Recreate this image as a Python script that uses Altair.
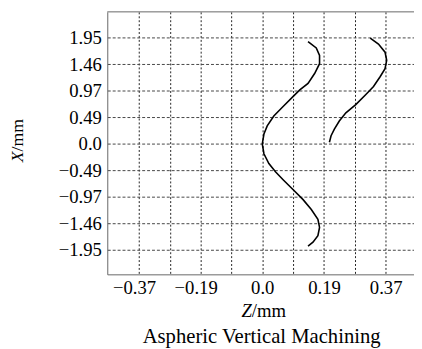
import altair as alt
import pandas as pd

# Curve 1 (through origin): Z values and X values
c1_z = [0.139, 0.164, 0.174, 0.174, 0.159, 0.139, 0.114, 0.094, 0.064, 0.035, 0.015, 0.005, 0.0,
        0.005, 0.020, 0.040, 0.064, 0.094, 0.124, 0.149, 0.169, 0.174, 0.169, 0.154, 0.139]
c1_x = [1.878, 1.762, 1.625, 1.473, 1.293, 1.112, 0.993, 0.872, 0.692, 0.511, 0.330, 0.181, 0.0,
        -0.181, -0.361, -0.513, -0.662, -0.843, -1.024, -1.204, -1.385, -1.535, -1.687, -1.806, -1.878]

# Curve 2 (shifted, upper half only)
c2_z = [0.328, 0.353, 0.373, 0.378, 0.373, 0.358, 0.338, 0.314, 0.284, 0.254, 0.234, 0.219, 0.209, 0.204]
c2_x = [1.943, 1.835, 1.685, 1.535, 1.383, 1.233, 1.053, 0.903, 0.722, 0.571, 0.421, 0.271, 0.150, 0.029]

# Axis ticks / grid
x_grid = [-0.375, -0.28125, -0.1875, -0.09375, 0.0, 0.09375, 0.1875, 0.28125, 0.375]
x_labels = ["\u22120.37", "", "\u22120.19", "", "0.0", "", "0.19", "", "0.37"]
y_grid = [1.95, 1.4625, 0.975, 0.4875, 0.0, -0.4875, -0.975, -1.4625, -1.95]
y_labels = ["1.95", "1.46", "0.97", "0.49", "0.0", "\u22120.49", "\u22120.97", "\u22121.46", "\u22121.95"]

x_domain = [-0.471, 0.461]
y_domain = [-2.396, 2.425]

FONT = "Liberation Serif"
W, H = 312, 267


def label_expr(vals, labs):
    expr = "''"
    for v, lab in reversed(list(zip(vals, labs))):
        expr = f"abs(datum.value - ({v})) < 1e-6 ? '{lab}' : ({expr})"
    return expr


rows = []
for i, (z, x) in enumerate(zip(c1_z, c1_x)):
    rows.append({"series": "a", "i": i, "Z": z, "X": x})
for i, (z, x) in enumerate(zip(c2_z, c2_x)):
    rows.append({"series": "b", "i": i, "Z": z, "X": x})
df = pd.DataFrame(rows)

xscale = alt.Scale(domain=x_domain, nice=False, zero=False)
yscale = alt.Scale(domain=y_domain, nice=False, zero=False)

lines = alt.Chart(df).mark_line(color="black", strokeWidth=1.6).encode(
    x=alt.X("Z:Q", scale=xscale, axis=alt.Axis(
        values=x_grid, labelExpr=label_expr(x_grid, x_labels), title=None,
        grid=True, gridDash=[2, 2], gridColor="#222", gridWidth=1,
        ticks=False, tickSize=0, domainColor="#666", domainWidth=1,
        labelFont=FONT, labelFontSize=19, labelColor="black", labelPadding=4,
        labelOffset={"condition": {"test": "datum.value < -0.01", "value": -5}, "value": 0},
        labelFlush=False, labelOverlap=False)),
    y=alt.Y("X:Q", scale=yscale, axis=alt.Axis(
        values=y_grid, labelExpr=label_expr(y_grid, y_labels), title=None,
        grid=True, gridDash=[3, 2], gridColor="#444", gridWidth=1,
        ticks=False, tickSize=0, domainColor="#666", domainWidth=1,
        labelFont=FONT, labelFontSize=19, labelColor="black", labelPadding=6,
        labelFlush=False, labelOverlap=False)),
    detail="series:N",
    order="i:Q",
)

top_border = alt.Chart(pd.DataFrame({"k": [0]})).mark_rule(color="#666", strokeWidth=1).encode(
    x=alt.value(0), x2=alt.value(W), y=alt.value(0))

txt = pd.DataFrame({"k": [0]})
z_it = alt.Chart(txt).mark_text(text="Z", font=FONT, fontSize=19, fontStyle="italic",
                                align="right", baseline="alphabetic", color="black").encode(
    x=alt.value(147), y=alt.value(310))
z_mm = alt.Chart(txt).mark_text(text="/mm", font=FONT, fontSize=19,
                                align="left", baseline="alphabetic", color="black").encode(
    x=alt.value(147), y=alt.value(310))
x_it = alt.Chart(txt).mark_text(text="X", font=FONT, fontSize=18, fontStyle="italic", angle=270,
                                align="right", baseline="alphabetic", color="black").encode(
    x=alt.value(-86), y=alt.value(142))
x_mm = alt.Chart(txt).mark_text(text="/mm", font=FONT, fontSize=18, angle=270,
                                align="left", baseline="alphabetic", color="black").encode(
    x=alt.value(-86), y=alt.value(142))
title = alt.Chart(txt).mark_text(text="Aspheric Vertical Machining", font=FONT, fontSize=21,
                                 align="center", baseline="alphabetic", color="black").encode(
    x=alt.value(157), y=alt.value(337))

chart = alt.layer(lines, top_border, z_it, z_mm, x_it, x_mm, title).properties(
    width=W, height=H,
    autosize=alt.AutoSizeParams(type="none"),
    padding={"left": 101, "top": 1, "right": 0, "bottom": 72},
    background="white",
).configure_view(stroke=None)

chart.save("out.html", embed_options={"renderer": "svg", "actions": False})
